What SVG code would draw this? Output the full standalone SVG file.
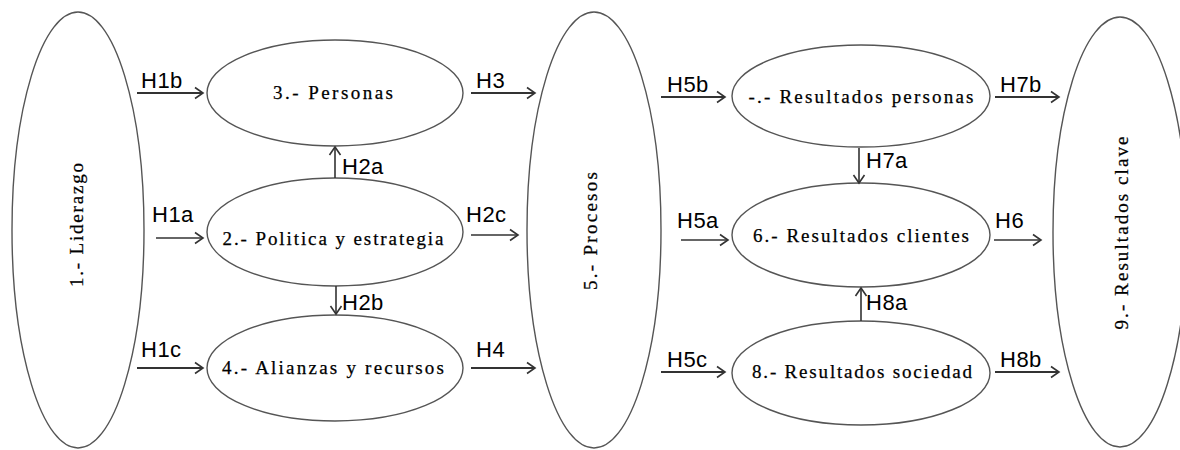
<svg xmlns="http://www.w3.org/2000/svg" width="1180" height="450" viewBox="0 0 1180 450">
<defs>
<marker id="ah" markerUnits="userSpaceOnUse" markerWidth="12" markerHeight="14" refX="10" refY="7" orient="auto">
<path d="M2,1.5 L10,7 L2,12.5" fill="none" stroke="#333" stroke-width="1.6"/>
</marker>
<style>
.node{fill:#fff;stroke:#555;stroke-width:1.4}
.nt{font-family:"Liberation Serif","Times New Roman",serif;font-size:19px;fill:#000;text-anchor:middle;stroke:#000;stroke-width:0.25}
.lb{font-family:"Liberation Sans",Arial,sans-serif;font-size:22px;fill:#000;letter-spacing:0.5px}
.c{stroke:#333;fill:none;marker-end:url(#ah)}
.th{stroke-width:2.2}
.tn{stroke-width:1.6}
</style>
</defs>
<rect width="1180" height="450" fill="#fff"/>
<g id="n1"><ellipse class="node" cx="78" cy="230" rx="66" ry="218"/><text class="nt" transform="translate(83,225) rotate(-90)" textLength="124" lengthAdjust="spacing">1.- Liderazgo</text></g>
<g id="n3"><ellipse class="node" cx="335" cy="93" rx="128" ry="53"/><text class="nt" x="333" y="99" textLength="120" lengthAdjust="spacing">3.- Personas</text></g>
<g id="n2"><ellipse class="node" cx="335" cy="232" rx="128" ry="54"/><text class="nt" x="333" y="245" textLength="221" lengthAdjust="spacing">2.- Politica y estrategia</text></g>
<g id="n4"><ellipse class="node" cx="335" cy="368" rx="128" ry="53"/><text class="nt" x="333" y="374" textLength="222" lengthAdjust="spacing">4.- Alianzas y recursos</text></g>
<g id="n5"><ellipse class="node" cx="594" cy="230" rx="67" ry="218"/><text class="nt" transform="translate(597,231) rotate(-90)" textLength="118" lengthAdjust="spacing">5.- Procesos</text></g>
<g id="n7"><ellipse class="node" cx="861" cy="96" rx="129" ry="51"/><text class="nt" x="861" y="103" textLength="225" lengthAdjust="spacing">-.- Resultados personas</text></g>
<g id="n6"><ellipse class="node" cx="861" cy="235" rx="129" ry="52"/><text class="nt" x="861" y="242" textLength="216" lengthAdjust="spacing">6.- Resultados clientes</text></g>
<g id="n8"><ellipse class="node" cx="861" cy="373" rx="129" ry="52"/><text class="nt" x="862" y="378" textLength="220" lengthAdjust="spacing">8.- Resultados sociedad</text></g>
<g id="n9"><ellipse class="node" cx="1120" cy="232" rx="67" ry="215"/><text class="nt" transform="translate(1128,233) rotate(-90)" textLength="193" lengthAdjust="spacing">9.- Resultados clave</text></g>
<g id="connectors">
<line class="c th" x1="137" y1="93" x2="203" y2="93"/>
<line class="c tn" x1="156" y1="238" x2="203" y2="238"/>
<line class="c th" x1="137" y1="368" x2="203" y2="368"/>
<line class="c tn" x1="335" y1="178" x2="335" y2="147"/>
<line class="c tn" x1="336" y1="286" x2="336" y2="314"/>
<line class="c th" x1="471" y1="93" x2="535" y2="93"/>
<line class="c tn" x1="471" y1="235" x2="518" y2="235"/>
<line class="c th" x1="471" y1="368" x2="535" y2="368"/>
<line class="c th" x1="661" y1="97" x2="725" y2="97"/>
<line class="c tn" x1="681" y1="240" x2="728" y2="240"/>
<line class="c th" x1="661" y1="372" x2="725" y2="372"/>
<line class="c tn" x1="859" y1="148" x2="859" y2="183"/>
<line class="c tn" x1="861" y1="321" x2="861" y2="288"/>
<line class="c th" x1="995" y1="97" x2="1059" y2="97"/>
<line class="c tn" x1="994" y1="240" x2="1041" y2="240"/>
<line class="c th" x1="995" y1="372" x2="1059" y2="372"/>
<text class="lb" x="141" y="88">H1b</text>
<text class="lb" x="152" y="222">H1a</text>
<text class="lb" x="141" y="357">H1c</text>
<text class="lb" x="342" y="174">H2a</text>
<text class="lb" x="342" y="310">H2b</text>
<text class="lb" x="476" y="88">H3</text>
<text class="lb" x="466" y="222">H2c</text>
<text class="lb" x="476" y="357">H4</text>
<text class="lb" x="667" y="92">H5b</text>
<text class="lb" x="677" y="228">H5a</text>
<text class="lb" x="667" y="367">H5c</text>
<text class="lb" x="866" y="168">H7a</text>
<text class="lb" x="866" y="310">H8a</text>
<text class="lb" x="1000" y="92">H7b</text>
<text class="lb" x="995" y="228">H6</text>
<text class="lb" x="1000" y="367">H8b</text>
</g>
</svg>
